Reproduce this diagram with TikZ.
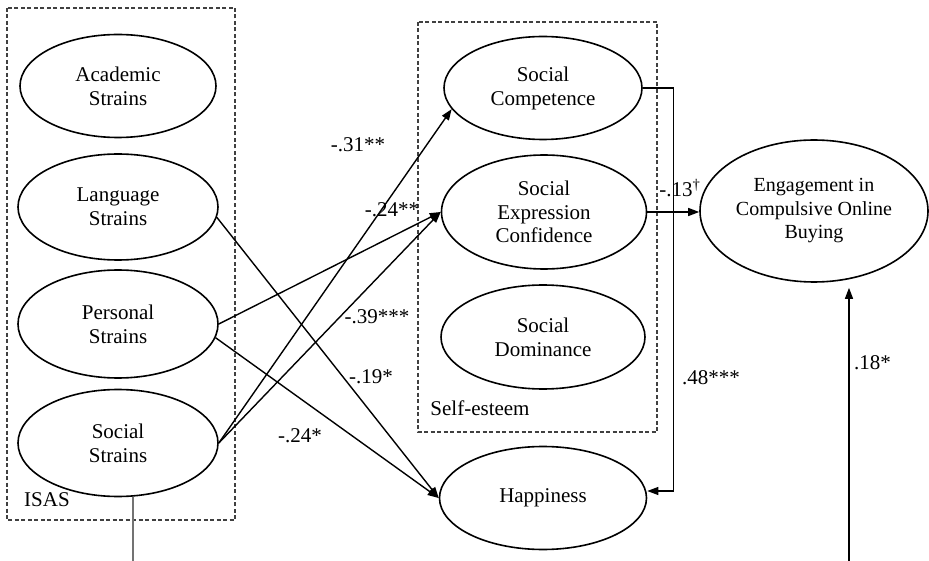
\documentclass[tikz,border=0pt]{standalone}
\usepackage{fontspec}
\setmainfont{Liberation Serif}
\usetikzlibrary{shapes.geometric,arrows.meta}
\begin{document}
\begin{tikzpicture}[x=1pt,y=-1pt,
  lat/.style={ellipse, draw, line width=1.6pt, inner sep=0pt, align=center,
    font=\fontsize{21}{24}\selectfont},
  grp/.style={draw=black!75, dash pattern=on 4pt off 2.5pt, line width=1.1pt},
  arr/.style={line width=1.4pt, -{Triangle[length=11pt,width=8pt]}},
  thin arr/.style={line width=1.1pt, -{Triangle[length=11pt,width=8pt]}},
  lbl/.style={font=\fontsize{21}{24}\selectfont, inner sep=0pt}]
\useasboundingbox (0,0) rectangle (929,561);
% group boxes
\draw[grp] (7,8) rectangle (235,520);
\node[lbl] (isas) at (47,500) {ISAS};
\draw[grp] (418,22) rectangle (657,432);
\node[lbl] (se) at (480,408) {Self-esteem};
% latent variables
\node[lat, minimum width=196pt, minimum height=103pt] (acad) at (118,86) {Academic\\Strains};
\node[lat, minimum width=200pt, minimum height=106pt] (lang) at (118,207) {Language\\Strains};
\node[lat, minimum width=200pt, minimum height=108pt] (pers) at (118,324) {Personal\\Strains};
\node[lat, minimum width=200pt, minimum height=107pt] (soc) at (118,443) {Social\\Strains};
\node[lat, minimum width=198pt, minimum height=103pt] (comp) at (543,88) {Social\\Competence};
\node[lat, minimum width=205pt, minimum height=114pt, font=\fontsize{21}{23.5}\selectfont] (expr) at (544,212) {Social\\Expression\\Confidence};
\node[lat, minimum width=204pt, minimum height=104pt] (dom) at (543,337) {Social\\Dominance};
\node[lat, minimum width=207pt, minimum height=103pt] (happ) at (543,498) {Happiness};
\node[lat, minimum width=228pt, minimum height=142pt, font=\fontsize{20}{23.5}\selectfont] (eng) at (814,211) {Engagement in\\Compulsive Online\\Buying};
% paths
\draw[arr] (lang.-6) -- (happ.west);
\draw[arr] (pers.-8) -- (happ.west);
\draw[arr] (pers.east) -- (expr.west);
\draw[arr] (soc.east) -- (comp.193);
\draw[arr] (soc.east) -- (expr.west);
\draw[arr] (expr.east) -- (expr.east -| eng.west);
\draw[thin arr] (comp.east) -- ++(31,0) |- ([yshift=7pt]happ.east);
\coordinate (src) at (849,561);
\draw[arr] (src) -- ([yshift=-5pt]src |- eng.south);
\coordinate (gsrc) at (133,561);
\draw[black!55, line width=1.1pt] (gsrc |- soc.south) -- (gsrc);
% labels
\node[lbl] (l1) at (358,145) {-.31**};
\node[lbl] (l2) at (392,210) {-.24**};
\node[lbl] (l3) at (377,317) {-.39***};
\node[lbl] (l4) at (371,377) {-.19*};
\node[lbl] (l5) at (300,436) {-.24*};
\node[lbl] (l6) at (680,188) {-.13\textsuperscript{\textdagger}};
\node[lbl, anchor=west] (l7) at (682,378) {.48***};
\node[lbl, anchor=west] (l8) at (854,363) {.18*};
\end{tikzpicture}
\end{document}
